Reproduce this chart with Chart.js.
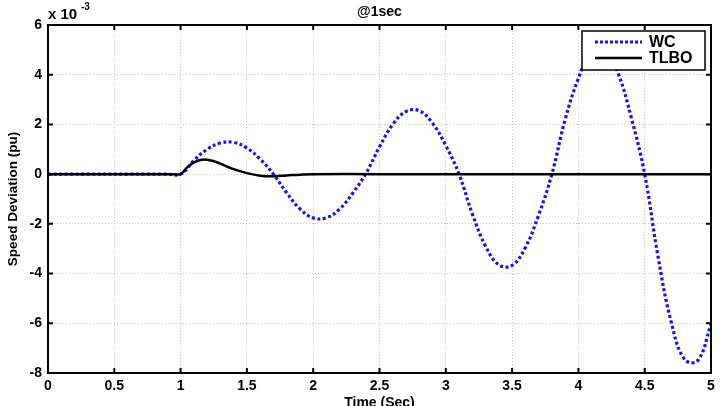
<!DOCTYPE html>
<html>
<head>
<meta charset="utf-8">
<script src="https://cdn.jsdelivr.net/npm/chart.js@4/dist/chart.umd.min.js"></script>
<style>
  html, body { margin: 0; padding: 0; background: #fff; }
  #wrap { width: 720px; height: 406px; position: relative; }
</style>
</head>
<body>
<div id="wrap"><canvas id="speedChart"></canvas></div>
<script>
// values, speed deviation in units of 1e-3 pu
var wcTime = [0, 0.9, 1.0, 1.1, 1.2, 1.3, 1.4, 1.5, 1.6, 1.7, 1.8, 1.9, 2.0, 2.1, 2.2, 2.3, 2.4, 2.5, 2.6, 2.7, 2.8, 2.9, 3.0,
    3.1, 3.2, 3.3, 3.4, 3.5, 3.6, 3.7, 3.8, 3.9, 4.0, 4.1, 4.2, 4.3, 4.4, 4.5, 4.6, 4.7, 4.8, 4.9, 5.0];
var wcValues = [0, 0, 0, 0.55, 1.0, 1.25, 1.28, 1.05, 0.6, 0.0, -0.75, -1.4, -1.76, -1.75, -1.4, -0.75, 0.05, 1.1, 2.0, 2.52, 2.55, 2.05, 1.15,
    0.0, -1.6, -2.9, -3.65, -3.67, -2.95, -1.65, 0.0, 2.2, 3.85, 4.95, 5.05, 4.05, 2.25, 0.0, -3.3, -5.95, -7.45, -7.5, -6.05];

var tlboTime = [0, 0.95, 1.0, 1.05, 1.1, 1.15, 1.2, 1.25, 1.3, 1.4, 1.5, 1.6, 1.7, 1.8, 1.9, 2.0, 2.5, 5.0];
var tlboValues = [0, 0, 0, 0.27, 0.47, 0.57, 0.58, 0.52, 0.42, 0.2, 0.04, -0.06, -0.08, -0.05, -0.02, 0, 0, 0];

var xTicks = [0, 0.5, 1, 1.5, 2, 2.5, 3, 3.5, 4, 4.5, 5];
var yTicks = [-8, -6, -4, -2, 0, 2, 4, 6];

var seriesNames = ['WC', 'TLBO'];
var seriesColors = ['#1414e6', '#000000'];

var titleText = '@1sec';
var xTitle = 'Time (Sec)';
var yTitle = 'Speed Deviation (pu)';

function toPoints(xs, ys) {
    var pts = [];
    for (var i = 0; i < xs.length; i++) {
        pts.push({ x: xs[i], y: ys[i] });
    }
    return pts;
}

var FONT = '"Liberation Sans", Arial, sans-serif';

// frame, inward ticks, titles and the boxed legend
var decorations = {
    id: 'decorations',
    afterDraw: function (chart) {
        var ctx = chart.ctx;
        var area = chart.chartArea;
        var xs = chart.scales.x;
        var ys = chart.scales.y;
        ctx.save();

        ctx.strokeStyle = '#000';
        ctx.lineWidth = 2;
        ctx.strokeRect(area.left, area.top, area.right - area.left, area.bottom - area.top);

        xTicks.forEach(function (v) {
            var px = xs.getPixelForValue(v);
            ctx.beginPath();
            ctx.moveTo(px, area.top); ctx.lineTo(px, area.top + 5);
            ctx.moveTo(px, area.bottom); ctx.lineTo(px, area.bottom - 5);
            ctx.stroke();
        });
        yTicks.forEach(function (v) {
            var py = ys.getPixelForValue(v);
            ctx.beginPath();
            ctx.moveTo(area.left, py); ctx.lineTo(area.left + 5, py);
            ctx.moveTo(area.right, py); ctx.lineTo(area.right - 5, py);
            ctx.stroke();
        });

        ctx.fillStyle = '#000';
        ctx.textAlign = 'center';
        ctx.textBaseline = 'alphabetic';
        ctx.font = 'bold 14px ' + FONT;
        ctx.fillText(titleText, (area.left + area.right) / 2, 16);

        ctx.textBaseline = 'top';
        ctx.fillText(xTitle, (area.left + area.right) / 2, 396);

        ctx.save();
        ctx.translate(13, (area.top + area.bottom) / 2);
        ctx.rotate(-Math.PI / 2);
        ctx.textBaseline = 'middle';
        ctx.font = 'bold 13.5px ' + FONT;
        ctx.fillText(yTitle, 0, 0);
        ctx.restore();

        // exponent label
        ctx.textAlign = 'left';
        ctx.textBaseline = 'alphabetic';
        ctx.font = 'bold 15px ' + FONT;
        ctx.fillText('x 10', 48, 19);
        ctx.font = 'bold 10px ' + FONT;
        ctx.fillText('-3', 81, 10);

        // legend
        var lx = 582, ly = 31, lw = 123, lh = 39;
        ctx.fillStyle = '#fff';
        ctx.fillRect(lx, ly, lw, lh);
        ctx.lineWidth = 1.5;
        ctx.strokeStyle = '#000';
        ctx.strokeRect(lx, ly, lw, lh);
        var rowsY = [42, 58];
        for (var i = 0; i < seriesNames.length; i++) {
            ctx.beginPath();
            ctx.strokeStyle = seriesColors[i];
            ctx.lineWidth = i === 0 ? 3 : 2.5;
            ctx.setLineDash(i === 0 ? [3, 2] : []);
            ctx.moveTo(595, rowsY[i]);
            ctx.lineTo(642, rowsY[i]);
            ctx.stroke();
            ctx.setLineDash([]);
            ctx.fillStyle = '#000';
            ctx.font = 'bold 16px ' + FONT;
            ctx.textBaseline = 'middle';
            ctx.fillText(seriesNames[i], 649, rowsY[i] + 1);
        }
        ctx.restore();
    }
};

var ctx = document.getElementById('speedChart').getContext('2d');
var chart = new Chart(ctx, {
    type: 'line',
    data: {
        datasets: [{
            label: seriesNames[0],
            data: toPoints(wcTime, wcValues),
            borderColor: seriesColors[0],
            borderWidth: 3.2,
            borderDash: [3, 2.5],
            pointRadius: 0,
            tension: 0.4,
            fill: false,
            order: 1
        }, {
            label: seriesNames[1],
            data: toPoints(tlboTime, tlboValues),
            borderColor: seriesColors[1],
            borderWidth: 2.5,
            pointRadius: 0,
            tension: 0.4,
            fill: false,
            order: 0
        }]
    },
    options: {
        animation: false,
        responsive: true,
        maintainAspectRatio: false,
        layout: { padding: { top: 25, right: 9, left: 0, bottom: 0 } },
        plugins: {
            legend: { display: false },
            tooltip: { enabled: false }
        },
        scales: {
            x: {
                type: 'linear',
                min: 0,
                max: 5,
                afterBuildTicks: function (axis) {
                    axis.ticks = xTicks.map(function (v) { return { value: v }; });
                },
                afterFit: function (axis) { axis.height = 33; },
                ticks: {
                    color: '#000',
                    font: { family: FONT, size: 14, weight: 'bold' },
                    padding: 5,
                    maxRotation: 0,
                    callback: function (v) { return String(v); }
                },
                grid: { color: '#c4c4c4', lineWidth: 1, drawTicks: false },
                border: { display: false, dash: [1, 2] }
            },
            y: {
                type: 'linear',
                min: -8,
                max: 6,
                afterBuildTicks: function (axis) {
                    axis.ticks = yTicks.map(function (v) { return { value: v }; });
                },
                afterFit: function (axis) { axis.width = 48; },
                ticks: {
                    color: '#000',
                    font: { family: FONT, size: 14, weight: 'bold' },
                    padding: 6,
                    callback: function (v) { return String(v); }
                },
                grid: { color: '#c4c4c4', lineWidth: 1, drawTicks: false },
                border: { display: false, dash: [1, 2] }
            }
        }
    },
    plugins: [decorations]
});
</script>
</body>
</html>
